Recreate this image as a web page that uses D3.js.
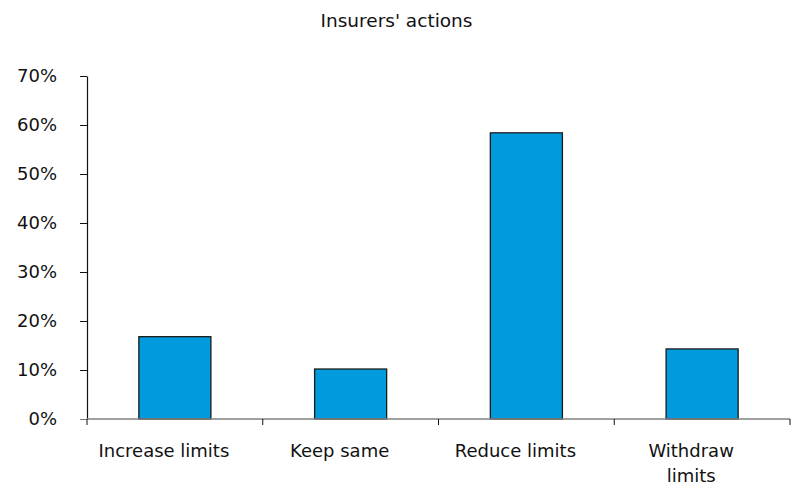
<!DOCTYPE html>
<html>
<head>
<meta charset="utf-8">
<script src="https://cdn.jsdelivr.net/npm/d3@7"></script>
<style>
  html, body { margin: 0; padding: 0; background: #fff; }
  svg { display: block; font-family: "DejaVu Sans", Verdana, sans-serif; }
</style>
</head>
<body>
<svg id="chart" width="793" height="489"></svg>
<script>
// Share of insurers taking each action on limits
const categories = ["Increase limits", "Keep same", "Reduce limits", "Withdraw limits"];
const categoryLines = [["Increase limits"], ["Keep same"], ["Reduce limits"], ["Withdraw", "limits"]];
const shares = [0.168, 0.102, 0.584, 0.143];
const yTicks = [0, 0.1, 0.2, 0.3, 0.4, 0.5, 0.6, 0.7];
const title = "Insurers' actions";

const svg = d3.select("#chart");
const W = 793, H = 489;
const margin = { top: 76, right: 3, bottom: 70, left: 87 };
const plotW = W - margin.left - margin.right;
const plotH = H - margin.top - margin.bottom;
const fontSize = 18;

const g = svg.append("g").attr("transform", `translate(${margin.left},${margin.top})`);

const x = d3.scaleBand()
  .domain(categories)
  .range([0, plotW])
  .paddingInner(0.59)
  .paddingOuter(0.295);

const y = d3.scaleLinear().domain([0, 0.7]).range([plotH, 0]);

// title
svg.append("text")
  .attr("x", W / 2)
  .attr("y", 27)
  .attr("text-anchor", "middle")
  .attr("font-size", 18.5)
  .attr("fill", "#111")
  .text(title);

// bars
g.selectAll("rect.bar")
  .data(categories)
  .join("rect")
  .attr("class", "bar")
  .attr("x", d => x(d))
  .attr("width", x.bandwidth())
  .attr("y", (d, i) => y(shares[i]))
  .attr("height", (d, i) => y(0) - y(shares[i]))
  .attr("fill", "#009bdc")
  .attr("stroke", "#1b1b1b")
  .attr("stroke-width", 1.3);

// y axis
const yAxis = g.append("g")
  .call(d3.axisLeft(y)
    .tickValues(yTicks)
    .tickFormat(d3.format(".0%"))
    .tickSize(7)
    .tickSizeOuter(0)
    .tickPadding(23));
yAxis.select(".domain").attr("stroke", "#111").attr("stroke-width", 1.2);
yAxis.selectAll(".tick line").attr("stroke", "#111");
yAxis.selectAll(".tick").filter(d => d === 0).select("line").attr("stroke", "#777");
yAxis.selectAll(".tick text")
  .attr("font-family", "DejaVu Sans, Verdana, sans-serif")
  .attr("font-size", fontSize)
  .attr("fill", "#111");

// x axis baseline and category separators
const xAxis = g.append("g").attr("transform", `translate(0,${plotH})`);
xAxis.append("line")
  .attr("x1", 0).attr("x2", plotW)
  .attr("y1", 0).attr("y2", 0)
  .attr("stroke", "#808080")
  .attr("stroke-width", 1.3);
const half = (x.step() - x.bandwidth()) / 2;
const bounds = [x(categories[0]) - half].concat(categories.map(c => x(c) + x.bandwidth() + half));
xAxis.selectAll("line.sep")
  .data(bounds)
  .join("line")
  .attr("class", "sep")
  .attr("x1", d => d).attr("x2", d => d)
  .attr("y1", 0).attr("y2", 6)
  .attr("stroke", "#111")
  .attr("stroke-width", 1);

// category labels
const labels = xAxis.selectAll("text.cat")
  .data(categories)
  .join("text")
  .attr("class", "cat")
  .attr("text-anchor", "middle")
  .attr("font-size", fontSize)
  .attr("fill", "#111")
  .attr("transform", d => `translate(${x(d) + x.bandwidth() / 2 - 11},38)`);
labels.selectAll("tspan")
  .data((d, i) => categoryLines[i])
  .join("tspan")
  .attr("x", 0)
  .attr("dy", (d, i) => i === 0 ? 0 : 25)
  .text(d => d);
</script>
</body>
</html>
